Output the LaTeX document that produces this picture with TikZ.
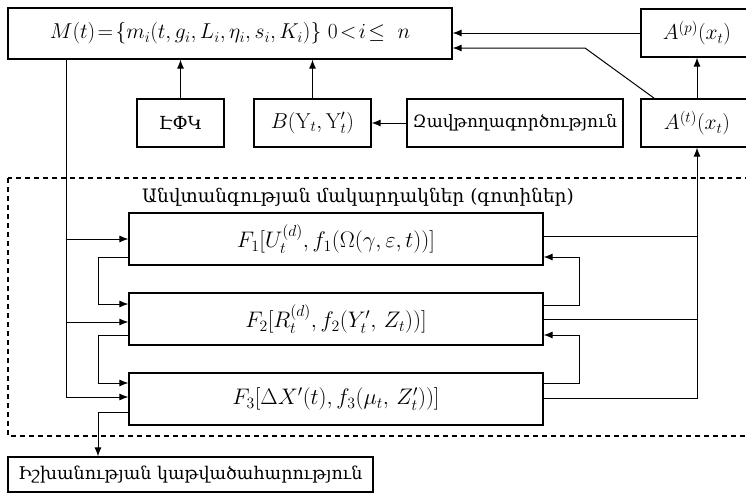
\RequirePackage{fix-cm}
\documentclass[tikz,border=0pt]{standalone}
\usepackage{amsmath}
\usepackage{fontspec}
\newfontfamily\armfont{DejaVu Serif}
\usetikzlibrary{positioning, arrows.meta, calc}
\tikzset{
>={Latex[length=9pt, width=7pt]}, % filled arrow heads
box/.style={draw, line width=1.2pt, inner sep=0pt, font=\fontsize{21.5}{25}\selectfont}, % every framed block
arm/.style={font=\armfont\fontsize{17.5}{20}\selectfont}, % armenian labels
wire/.style={line width=1pt}, % connectors
}

\begin{document}
\begin{tikzpicture}[x=1pt, y=-1pt]
        \useasboundingbox (0,0) rectangle (746,501);
        % upper part
        \node[box, minimum width=444, minimum height=51] (M) at (230,33.5)
        {$M(t)\!=\!\{m_i(t,g_i,L_i,\eta_i,s_i,K_i)\}\ 0\!<\!i\!\le\ n$};
        \node[box, minimum width=112, minimum height=48] (Ap) at (697,33) {$A^{(p)}(x_t)$};
        \node[box, minimum width=112, minimum height=48] (At) at (697,123) {$A^{(t)}(x_t)$};
        \node[box, arm, font=\armfont\fontsize{18}{22}\selectfont, minimum width=87, minimum height=48] (efk) at (180.5,123) {ԷՓԿ};
        \node[box, minimum width=117, minimum height=48] (B) at (312.5,123) {$B(\mathrm{Y}_t,\mathrm{Y}'_t)$};
        \node[box, arm, font=\armfont\fontsize{17}{20}\selectfont, minimum width=216, minimum height=48] (zavt) at (515,123) {Զավթողագործություն};
        
        % zones
        \draw[dash pattern=on 5pt off 4pt, line width=1.2pt] (8,178) rectangle (760,436);
        \node[arm, font=\armfont\fontsize{18.5}{22}\selectfont] (zones) at (358,197) {Անվտանգության մակարդակներ (գոտիներ)};
        \node[box, font=\fontsize{22.5}{26}\selectfont, minimum width=414, minimum height=52] (F1) at (336,239)
        {$F_1[U_t^{(d)}, f_1(\Omega(\gamma,\varepsilon,t))]$};
        \node[box, font=\fontsize{22.5}{26}\selectfont, minimum width=414, minimum height=52] (F2) at (336,319)
        {$F_2[R_t^{(d)}, f_2(Y'_t,\, Z_t))]$};
        \node[box, font=\fontsize{22.5}{26}\selectfont, minimum width=414, minimum height=52] (F3) at (336,399)
        {$F_3[\Delta X'(t), f_3(\mu_t,\, Z'_t))]$};
        \node[box, arm, minimum width=365, minimum height=35] (power) at (190.5,474.5)
        {Իշխանության կաթվածահարություն};
        
        \coordinate (trunkL) at (66,0);
        \coordinate (loopL) at (98,0);
        \coordinate (loopR) at (579,0);
        \coordinate (trunkR) at (697,0);
        \coordinate (kink) at (585,48);
        
        \draw[wire, ->] (Ap.west) -- (Ap.west -| M.east);
        \draw[wire, ->] ($(At.north west)+(14,0)$) -- (kink) -- (kink -| M.east);
        \draw[wire, ->] (At.north) -- (Ap.south);
        \draw[wire, ->] (efk.north) -- (efk.north |- M.south);
        \draw[wire, ->] (B.north) -- (B.north |- M.south);
        \draw[wire, ->] (zavt.west) -- (B.east);
        
        % left trunk
        \draw[wire] (M.south -| trunkL) -- ([yshift=2]F3.west -| trunkL);
        \draw[wire, ->] (F1.west -| trunkL) -- (F1.west);
        \draw[wire, ->] ([yshift=-3]F2.west -| trunkL) -- ([yshift=-3]F2.west);
        \draw[wire, ->] ([yshift=2]F3.west -| trunkL) -- ([yshift=2]F3.west);
        % left loops
        \draw[wire, ->] ([yshift=-18]F1.west) -- ([yshift=-18]F1.west -| loopL)
        -- ([yshift=15]F2.west -| loopL) -- ([yshift=15]F2.west);
        \draw[wire, ->] ([yshift=-16]F2.west) -- ([yshift=-16]F2.west -| loopL)
        -- ([yshift=16]F3.west -| loopL) -- ([yshift=16]F3.west);
        \draw[wire, ->] ([yshift=-13]F3.west) -- ([yshift=-13]F3.west -| loopL) -- (power.north -| loopL);
        
        % right loops
        \draw[wire, ->] ([yshift=14]F2.east) -- ([yshift=14]F2.east -| loopR)
        -- ([yshift=-18]F1.east -| loopR) -- ([yshift=-18]F1.east);
        \draw[wire, ->] ([yshift=16]F3.east) -- ([yshift=16]F3.east -| loopR)
        -- ([yshift=-16]F2.east -| loopR) -- ([yshift=-16]F2.east);
        % right trunk
        \draw[wire] ([yshift=3]F1.east) -- ([yshift=3]F1.east -| trunkR);
        \draw[wire] (F2.east) -- (F2.east -| trunkR);
        \draw[wire, ->] ([yshift=1]F3.east) -- ([yshift=1]F3.east -| trunkR) -- (At.south);
    \end{tikzpicture}
\end{document}
